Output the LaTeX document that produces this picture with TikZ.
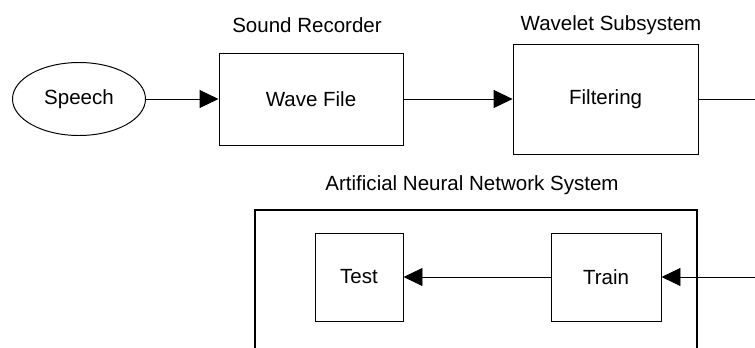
\documentclass[tikz,border=0pt]{standalone}
\usepackage{fontspec}
\setmainfont{Liberation Sans}
\usetikzlibrary{shapes.geometric, positioning, arrows.meta}

\begin{document}
\begin{tikzpicture}

          % Setup the styles for the blocks and labels
          \tikzset{block style/.style={draw,
                                       rectangle,
                                       line width=0.7pt,
                                       inner sep=0pt,
                                       font=\fontsize{14.6}{17}\selectfont},
                   title style/.style={inner sep=0pt,
                                       font=\fontsize{14.6}{17}\selectfont},
                   flow style/.style={line width=0.7pt,
                                      -{Triangle[length=0.475cm, width=0.45cm]}}}
          \useasboundingbox (0, 0) rectangle (18.875, 8.675);
          \clip (0, 0) rectangle (18.875, 8.675);
          % Draw the blocks
          \node[block style, ellipse, minimum width=3.325cm, minimum height=1.825cm]
               at (1.975, 6.2)    (speech)    {Speech};
          \node[block style, minimum width=4.6cm, minimum height=2.3cm]
               at (7.775, 6.2)    (wave)      {Wave File};
          \node[block style, minimum width=4.625cm, minimum height=2.75cm]
               at (15.14, 6.2)    (filter)    {Filtering};
          \node[block style, line width=1pt, minimum width=11.05cm, minimum height=4.925cm]
               at (11.9, 0.9625)  (ann)       {};
          \node[block style, minimum width=2.2cm, minimum height=2.2cm]
               at (8.975, 1.75)   (test)      {Test};
          \node[block style, minimum width=2.75cm, minimum height=2.2cm]
               at (15.15, 1.75)   (train)     {Train};
          % Titles over the blocks
          \node[title style] at (7.675, 8.05)  (recorder) {Sound Recorder};
          \node[title style] at (15.275, 8.05) (wavelet)  {Wavelet Subsystem};
          \node[title style] at (11.8, 4.05)   (network)  {Artificial Neural Network System};
          % Loose ends at the right border
          \coordinate (out) at (18.875, 6.2);
          \coordinate (in)  at (18.875, 1.75);
          % Connect the blocks with arrows
          \draw[flow style] (speech) -- (wave);
          \draw[flow style] (wave)   -- (filter);
          \draw[line width=0.7pt] (filter) -- (out);
          \draw[flow style] (in)     -- (train);
          \draw[flow style] (train)  -- (test);
      \end{tikzpicture}
\end{document}
